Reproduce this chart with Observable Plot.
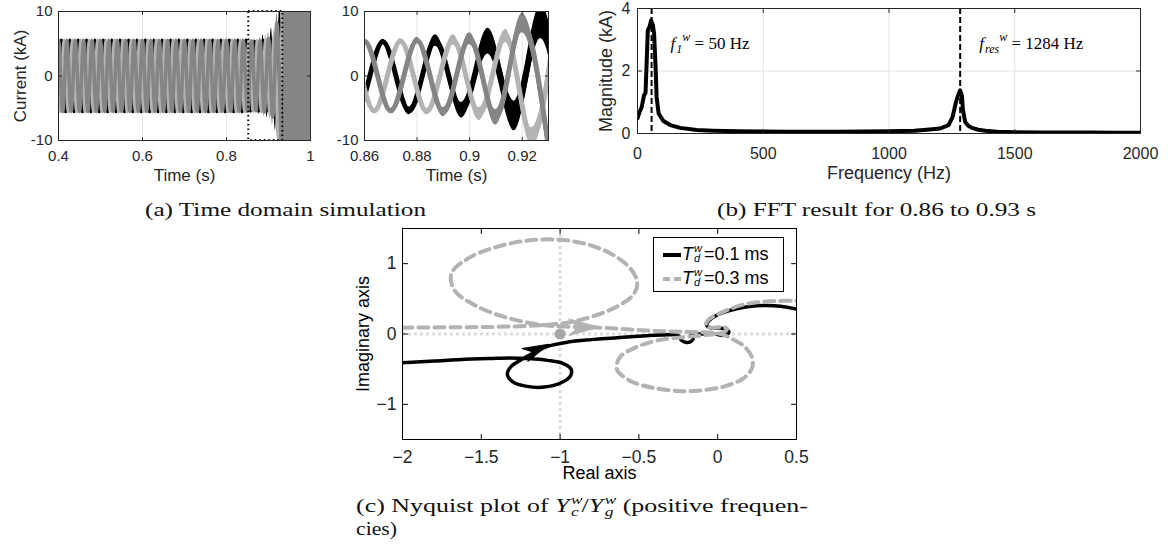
<!DOCTYPE html>
<html><head><meta charset="utf-8">
<script src="https://cdn.jsdelivr.net/npm/d3@7"></script>
<script src="https://cdn.jsdelivr.net/npm/@observablehq/plot@0.6"></script>
<style>
body{margin:0;background:#fff;}
#root{position:relative;width:1168px;height:547px;overflow:hidden;background:#fff;font-family:"Liberation Sans",Arial,sans-serif;}
#root svg{overflow:visible;}
.legend{position:absolute;border:1px solid #000;background:#fff;box-sizing:border-box;font-family:"Liberation Sans",Arial,sans-serif;color:#000;}
.legend .row{position:absolute;left:0;right:0;height:22px;}
.legend .txt{position:absolute;left:28px;top:0;font-size:18px;line-height:22px;white-space:nowrap;}
.legend .stk{display:inline-flex;flex-direction:column;font-size:11px;line-height:10px;vertical-align:top;margin:0 2px 0 1px;}
</style></head><body><div id="root"></div><script>
// ================= DATA =================
// Panel (a): three-phase currents (kA). Fundamental frequency from panel (b).
const f1 = 50;                 // Hz
const steadyAmp = 5.5;         // kA, steady amplitude before 0.86 s
const steadyW = 0.3;           // kA, thickness of superimposed ripple in steady state
// extremes during the growth of the oscillation: [time s, value kA, ripple half-width kA]
const growthA = [[0.857,-5.4,0.3],[0.867,5.3,0.4],[0.877,-5.4,0.6],[0.887,5.5,0.9],[0.897,-5.3,1.2],[0.907,5.4,2.0],[0.917,-6.2,2.3],[0.927,8.4,2.6],[0.937,-12,4]];
const growthB = [[0.8637,-5.4,0.3],[0.8737,5.4,0.4],[0.8837,-5.5,0.5],[0.8937,5.6,0.8],[0.9037,-5.9,1.0],[0.9137,6.2,1.0],[0.9237,-9.5,1.5],[0.9337,12,2]];
const growthC = [[0.860,5.4,0.3],[0.870,-5.4,0.4],[0.880,5.5,0.5],[0.890,-5.6,0.7],[0.900,5.8,0.9],[0.910,-6.4,1.2],[0.920,8.2,1.5],[0.930,-11,2]];
const phaseColors = ["#000000", "#b3b3b3", "#858585"];
const zoomWindow = [{t1: 0.853, t2: 0.934}];
const saturation = [{t1: 0.934, t2: 1.0}];
const ticksA1x = [0.4, 0.6, 0.8, 1];
const ticksA2x = [0.86, 0.88, 0.9, 0.92];
const ticksAy = [-10, 0, 10];

// Panel (b): FFT magnitude
const fftFreq = [0,8,17,26,32,41,48,54,61,66,72,76,84,103,130,170,236,300,400,500,600,700,800,900,1000,1100,1150,1203,1237,1253,1266,1276,1283,1290,1294,1303,1315,1330,1355,1383,1430,1503,1600,1700,1800,1900,2000];
const fftMag  = [0.48,0.68,0.85,1.23,1.3,3.3,3.42,3.62,3.47,3.2,2.1,1.17,0.64,0.4,0.27,0.18,0.11,0.09,0.075,0.065,0.06,0.06,0.06,0.065,0.07,0.09,0.12,0.16,0.27,0.53,1.0,1.25,1.38,1.2,0.75,0.37,0.25,0.18,0.12,0.09,0.06,0.04,0.035,0.03,0.03,0.025,0.02];
const fftMarkerAt = [56, 1283];
const fftMarkerLabel = ["f1", "fres"];
const ticksBx = [0, 500, 1000, 1500, 2000];
const ticksBy = [0, 2, 4];

// Panel (c): Nyquist curves
const nyqBlackRe = [-2.0,-1.8,-1.6,-1.45,-1.32,-1.2,-1.08,-0.98,-0.93,-0.935,-0.99,-1.1,-1.21,-1.3,-1.335,-1.31,-1.25,-1.17,-1.07,-0.95,-0.8,-0.6,-0.45,-0.3,-0.245,-0.23,-0.2,-0.165,-0.155,-0.17,-0.1,-0.02,0.04,0.07,0.055,0.01,-0.05,-0.07,-0.055,-0.02,0.04,0.12,0.2,0.3,0.4,0.5];
const nyqBlackIm = [-0.41,-0.385,-0.36,-0.35,-0.34,-0.35,-0.375,-0.42,-0.5,-0.6,-0.69,-0.755,-0.745,-0.68,-0.57,-0.46,-0.37,-0.27,-0.17,-0.115,-0.08,-0.045,-0.025,-0.01,-0.03,-0.09,-0.12,-0.1,-0.05,-0.005,0.0,0.0,-0.02,0.02,0.07,0.085,0.09,0.13,0.19,0.25,0.31,0.36,0.39,0.405,0.395,0.355];
const nyqGrayRe = [-2.0,-1.7,-1.45,-1.25,-1.08,-0.93,-0.78,-0.63,-0.535,-0.51,-0.55,-0.66,-0.82,-1.0,-1.2,-1.4,-1.58,-1.69,-1.67,-1.55,-1.38,-1.2,-1.05,-0.9,-0.75,-0.6,-0.45,-0.3,-0.15,-0.05,0.02,0.1,0.17,0.215,0.22,0.17,0.05,-0.1,-0.25,-0.42,-0.56,-0.64,-0.62,-0.52,-0.38,-0.22,-0.1,-0.02,0.04,0.06,0.04,-0.03,-0.075,-0.06,-0.01,0.06,0.15,0.25,0.38,0.5];
const nyqGrayIm = [0.09,0.095,0.1,0.11,0.13,0.17,0.26,0.4,0.56,0.73,0.92,1.12,1.27,1.34,1.33,1.24,1.08,0.86,0.62,0.42,0.26,0.16,0.115,0.1,0.09,0.07,0.05,0.035,0.03,0.02,0.0,-0.08,-0.18,-0.32,-0.47,-0.62,-0.74,-0.8,-0.81,-0.76,-0.66,-0.5,-0.33,-0.19,-0.09,-0.045,-0.02,0.0,0.03,0.07,0.1,0.09,0.12,0.2,0.27,0.34,0.41,0.45,0.47,0.47];
const nyqArrows = [{re: -1.072, im: -0.146, dir: 66, series: "black"}, {re: -0.754, im: 0.095, dir: 90, series: "gray"}];
const criticalPoint = [{re: -1, im: 0}];
const ticksCx = [-2, -1.5, -1, -0.5, 0, 0.5];
const ticksCy = [-1, 0, 1];
const legendLabels = ["=0.1 ms", "=0.3 ms"];

const captionA = "(a) Time domain simulation";
const captionB = "(b) FFT result for 0.86 to 0.93 s";
const captionC1 = ["(c) Nyquist plot of ", "Y", "w", "c", "/", "Y", "w", "g", " (positive frequen-"];
const captionC2 = "cies)";

// ================= HELPERS =================
const root = document.getElementById("root");
const SVGNS = "http://www.w3.org/2000/svg";
function place(node, left, top) {
  node.style.position = "absolute"; node.style.left = left + "px"; node.style.top = top + "px";
  root.appendChild(node); return node;
}
const tickShape = {draw(ctx, l) { ctx.moveTo(0, 0); ctx.lineTo(0, -l); }};
function boxTicks(xt, yt, len, color) {
  const o = {length: len, shape: tickShape, anchor: "start", stroke: color, strokeWidth: 1};
  return [
    Plot.vector(xt, {...o, x: d => d, frameAnchor: "bottom", rotate: 0}),
    Plot.vector(xt, {...o, x: d => d, frameAnchor: "top", rotate: 180}),
    Plot.vector(yt, {...o, y: d => d, frameAnchor: "left", rotate: 90}),
    Plot.vector(yt, {...o, y: d => d, frameAnchor: "right", rotate: -90})
  ];
}
function phasePoints(growth) {
  const half = 1 / (2 * f1);
  const pts = [];
  let t = growth[0][0] - half, s = -Math.sign(growth[0][1]);
  while (t > 0.38) { pts.unshift({t, v: s * steadyAmp, w: steadyW}); t -= half; s = -s; }
  for (const [tt, v, w] of growth) pts.push({t: tt, v, w});
  return pts;
}
const phases = [growthA, growthB, growthC].map(phasePoints);
function waveMarks(sw) {
  const m = [];
  phases.forEach((pts, i) => {
    m.push(Plot.areaY(pts, {x: "t", y1: d => d.v - d.w, y2: d => d.v + d.w, fill: phaseColors[i], curve: "monotone-x", clip: true}));
    m.push(Plot.line(pts, {x: "t", y: "v", stroke: phaseColors[i], strokeWidth: sw, curve: "monotone-x", clip: true}));
  });
  return m;
}
const gridColor = "#e3e3e3";
const frameColor = "#262626";
const sansStyle = (fs) => ({fontFamily: '"Liberation Sans", Arial, sans-serif', fontSize: fs + "px", color: frameColor, background: "transparent", overflow: "visible"});
const hyphen = d => String(d);
const minusFmt = d => String(d).replace("-", "\u2212");

// ================= PANEL (a) left =================
const pa1 = Plot.plot({
  width: 320, height: 195, marginLeft: 58, marginRight: 10, marginTop: 11, marginBottom: 55,
  x: {domain: [0.4, 1]}, y: {domain: [-10, 10]},
  style: sansStyle(15),
  marks: [
    Plot.gridX(ticksA1x, {stroke: gridColor, strokeOpacity: 1}),
    Plot.gridY(ticksAy, {stroke: gridColor, strokeOpacity: 1}),
    ...waveMarks(3.6),
    Plot.rect(saturation, {x1: "t1", x2: "t2", fill: phaseColors[2]}),
    Plot.rect(zoomWindow, {x1: "t1", x2: "t2", fill: "none", stroke: "#000", strokeWidth: 2, strokeDasharray: "1.5,3"}),
    Plot.frame({stroke: frameColor}),
    ...boxTicks(ticksA1x, ticksAy, 3, frameColor),
    Plot.axisX(ticksA1x, {tickSize: 0, tickPadding: 10, label: null, tickFormat: hyphen, fontSize: 15}),
    Plot.axisY(ticksAy, {tickSize: 0, tickPadding: 6, label: null, tickFormat: hyphen, fontSize: 15}),
    Plot.text(["Time (s)"], {text: d => d, frameAnchor: "bottom", dy: 40, fontSize: 17}),
    Plot.text(["Current (kA)"], {text: d => d, frameAnchor: "left", dx: -38, rotate: -90, textAnchor: "middle", fontSize: 17})
  ]
});
place(pa1, 0, 0);

// ================= PANEL (a) right =================
const pa2 = Plot.plot({
  width: 240, height: 195, marginLeft: 44, marginRight: 12, marginTop: 11, marginBottom: 55,
  x: {domain: [0.86, 0.93]}, y: {domain: [-10, 10]},
  style: sansStyle(15),
  marks: [
    Plot.gridX(ticksA2x, {stroke: gridColor, strokeOpacity: 1}),
    Plot.gridY(ticksAy, {stroke: gridColor, strokeOpacity: 1}),
    ...waveMarks(5),
    Plot.frame({stroke: frameColor}),
    ...boxTicks(ticksA2x, ticksAy, 3, frameColor),
    Plot.axisX(ticksA2x, {tickSize: 0, tickPadding: 10, label: null, tickFormat: hyphen, fontSize: 15}),
    Plot.axisY(ticksAy, {tickSize: 0, tickPadding: 6, label: null, tickFormat: hyphen, fontSize: 15}),
    Plot.text(["Time (s)"], {text: d => d, frameAnchor: "bottom", dy: 40, fontSize: 17})
  ]
});
place(pa2, 320, 0);

// ================= PANEL (b) =================
const fftData = fftFreq.map((f, i) => ({f, m: fftMag[i]}));
const fftMarkers = fftMarkerAt.map((f, i) => ({f, key: fftMarkerLabel[i]}));
const pb = Plot.plot({
  width: 598, height: 195, marginLeft: 67, marginRight: 28, marginTop: 8, marginBottom: 62,
  x: {domain: [0, 2000]}, y: {domain: [0, 4]},
  style: sansStyle(16),
  marks: [
    Plot.gridX(ticksBx, {stroke: gridColor, strokeOpacity: 1}),
    Plot.gridY(ticksBy, {stroke: gridColor, strokeOpacity: 1}),
    Plot.ruleX(fftMarkers, {x: "f", stroke: "#000", strokeWidth: 2, strokeDasharray: "6,3"}),
    Plot.line(fftData, {x: "f", y: "m", stroke: "#000", strokeWidth: 4, strokeLinejoin: "round", clip: true}),
    Plot.frame({stroke: frameColor}),
    ...boxTicks(ticksBx, ticksBy, 4, frameColor),
    Plot.axisX(ticksBx, {tickSize: 0, tickPadding: 14, label: null, fontSize: 16, tickFormat: hyphen}),
    Plot.axisY(ticksBy, {tickSize: 0, tickPadding: 7, label: null, fontSize: 16, tickFormat: hyphen}),
    Plot.text(["Frequency (Hz)"], {text: d => d, frameAnchor: "bottom", dy: 45, fontSize: 18}),
    Plot.text(["Magnitude (kA)"], {text: d => d, frameAnchor: "left", dx: -31, rotate: -90, textAnchor: "middle", fontSize: 18}),
    Plot.text(fftMarkers, {x: "f", text: "key", frameAnchor: "top", dy: 28, dx: 19, textAnchor: "start", fontFamily: '"Liberation Serif", "Times New Roman", serif', fontSize: 17, fill: "#000"})
  ]
});
place(pb, 570, 0);
// rich text for the annotations (subscripts / superscripts)
function rich(el, parts) {
  el.textContent = "";
  for (const p of parts) {
    const ts = document.createElementNS(SVGNS, "tspan");
    ts.textContent = p.t;
    if (p.i) ts.setAttribute("font-style", "italic");
    if (p.fs) ts.setAttribute("font-size", p.fs);
    if (p.dy) ts.setAttribute("dy", p.dy);
    if (p.dx) ts.setAttribute("dx", p.dx);
    el.appendChild(ts);
  }
}
pb.querySelectorAll("text").forEach(el => {
  if (el.textContent === "f1") rich(el, [{t: "f", i: 1}, {t: "1", i: 1, fs: 12, dy: 4, dx: 1}, {t: "w", i: 1, fs: 12, dy: -12, dx: 0}, {t: " = 50 Hz", dy: 8}]);
  if (el.textContent === "fres") rich(el, [{t: "f", i: 1}, {t: "res", i: 1, fs: 12, dy: 4, dx: 1}, {t: "w", i: 1, fs: 12, dy: -12, dx: 0}, {t: " = 1284 Hz", dy: 8}]);
});

// ================= PANEL (c) =================
const nyqBlack = nyqBlackRe.map((re, i) => ({re, im: nyqBlackIm[i]}));
const nyqGray = nyqGrayRe.map((re, i) => ({re, im: nyqGrayIm[i]}));
const arrowHead = {draw(ctx, l) { const w = l * 0.27; ctx.moveTo(0, -l); ctx.lineTo(w, 0); ctx.lineTo(0, -l * 0.3); ctx.lineTo(-w, 0); ctx.closePath(); }};
const grayC = "#b3b3b3";
const pc = Plot.plot({
  width: 470, height: 300, marginLeft: 62, marginRight: 14, marginTop: 28, marginBottom: 61,
  x: {domain: [-2, 0.5]}, y: {domain: [-1.5, 1.5]},
  style: sansStyle(17.5),
  marks: [
    Plot.ruleX(criticalPoint, {x: "re", stroke: "#dcdcdc", strokeWidth: 3, strokeDasharray: "3,3"}),
    Plot.ruleY(criticalPoint, {y: "im", stroke: "#dcdcdc", strokeWidth: 3, strokeDasharray: "3,3"}),
    Plot.line(nyqBlack, {x: "re", y: "im", stroke: "#000", strokeWidth: 3.5, curve: "catmull-rom", clip: true}),
    Plot.line(nyqGray, {x: "re", y: "im", stroke: grayC, strokeWidth: 4, strokeDasharray: "10,6", curve: "catmull-rom", clip: true}),
    Plot.dot(criticalPoint, {x: "re", y: "im", r: 5.5, fill: "#a6a6a6"}),
    Plot.vector(nyqArrows.filter(d => d.series === "black"), {x: "re", y: "im", rotate: "dir", length: 26, anchor: "end", shape: arrowHead, fill: "#000", stroke: "#000", strokeWidth: 1}),
    Plot.vector(nyqArrows.filter(d => d.series === "gray"), {x: "re", y: "im", rotate: "dir", length: 30, anchor: "end", shape: arrowHead, fill: grayC, stroke: grayC, strokeWidth: 1}),
    Plot.frame({stroke: "#000"}),
    ...boxTicks(ticksCx, ticksCy, 5, "#000"),
    Plot.axisX(ticksCx, {tickSize: 0, tickPadding: 11, label: null, fontSize: 17.5, tickFormat: minusFmt}),
    Plot.axisY(ticksCy, {tickSize: 0, tickPadding: 6, label: null, fontSize: 17.5, tickFormat: minusFmt}),
    Plot.text(["Real axis"], {text: d => d, frameAnchor: "bottom", dy: 39, fontSize: 18, fill: "#000"}),
    Plot.text(["Imaginary axis"], {text: d => d, frameAnchor: "left", dx: -39, rotate: -90, textAnchor: "middle", fontSize: 18, fill: "#000"})
  ]
});
place(pc, 340, 200);

// legend for panel (c)
const legend = document.createElement("div");
legend.className = "legend";
legend.style.width = "131px"; legend.style.height = "55px";
legendLabels.forEach((lab, i) => {
  const row = document.createElement("div");
  row.className = "row"; row.style.top = (5 + i * 24) + "px";
  const s = document.createElementNS(SVGNS, "svg");
  s.setAttribute("width", 24); s.setAttribute("height", 22);
  s.style.position = "absolute"; s.style.left = "6px"; s.style.top = "0px";
  const ln = document.createElementNS(SVGNS, "line");
  ln.setAttribute("x1", 3); ln.setAttribute("x2", 21); ln.setAttribute("y1", 12); ln.setAttribute("y2", 12);
  ln.setAttribute("stroke", i === 0 ? "#000" : grayC); ln.setAttribute("stroke-width", 4);
  if (i === 1) ln.setAttribute("stroke-dasharray", "7,4");
  s.appendChild(ln); row.appendChild(s);
  const tx = document.createElement("div");
  tx.className = "txt";
  tx.innerHTML = '<i>T</i><span class="stk"><i>w</i><i>d</i></span>' + lab;
  row.appendChild(tx);
  legend.appendChild(row);
});
place(legend, 653, 237);

// ================= CAPTIONS =================
const cap = document.createElementNS(SVGNS, "svg");
cap.setAttribute("width", 1168); cap.setAttribute("height", 547);
cap.style.pointerEvents = "none";
place(cap, 0, 0);
function capText(x, y, len, str) {
  const t = document.createElementNS(SVGNS, "text");
  t.setAttribute("x", x); t.setAttribute("y", y);
  t.setAttribute("font-family", '"Liberation Serif", "Times New Roman", serif');
  t.setAttribute("font-size", 18);
  t.setAttribute("fill", "#111");
  if (len) { t.setAttribute("textLength", len); t.setAttribute("lengthAdjust", "spacingAndGlyphs"); }
  if (typeof str === "string") t.textContent = str;
  cap.appendChild(t);
  return t;
}
capText(145, 216, 281, captionA);
capText(717, 216, 319, captionB);
const c1 = capText(356, 512, 452, null);
rich(c1, [
  {t: captionC1[0]}, {t: captionC1[1], i: 1}, {t: captionC1[2], i: 1, fs: 12, dy: -8, dx: 1},
  {t: captionC1[3], i: 1, fs: 12, dy: 12, dx: -8}, {t: captionC1[4], dy: -4, dx: 2}, {t: captionC1[5], i: 1},
  {t: captionC1[6], i: 1, fs: 12, dy: -8, dx: 1}, {t: captionC1[7], i: 1, fs: 12, dy: 12, dx: -8}, {t: captionC1[8], dy: -4, dx: 2}
]);
capText(356, 535, 41, captionC2);
</script></body></html>
